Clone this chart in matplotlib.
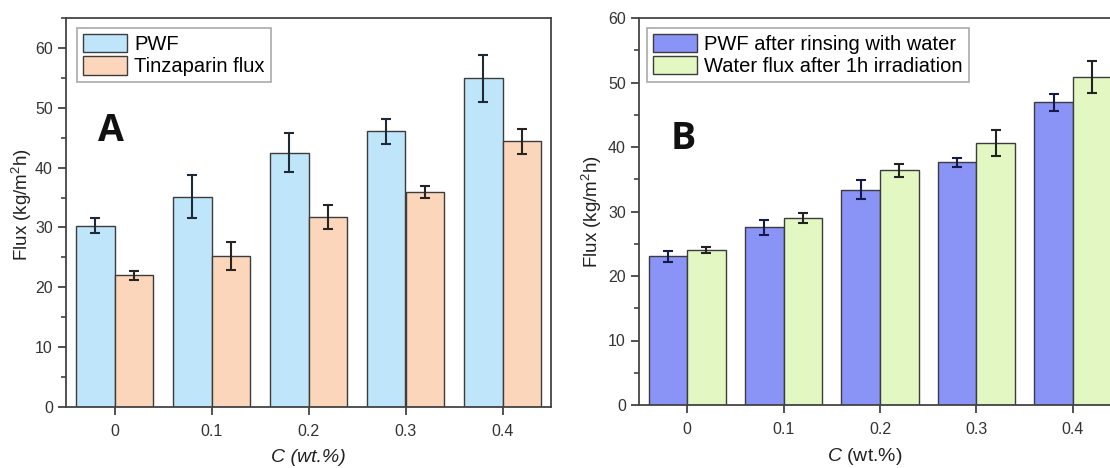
import matplotlib
matplotlib.use("Agg")
import matplotlib.pyplot as plt
import numpy as np
from matplotlib.ticker import MultipleLocator

plt.rcParams['font.family'] = ['Liberation Sans', 'DejaVu Sans']
plt.rcParams['mathtext.fontset'] = 'custom'
plt.rcParams['mathtext.rm'] = 'Liberation Sans'
plt.rcParams['mathtext.it'] = 'Liberation Sans:italic'
plt.rcParams['mathtext.bf'] = 'Liberation Sans:bold'

categories = ["0", "0.1", "0.2", "0.3", "0.4"]

# Panel A
pwf = [30.3, 35.1, 42.5, 46.1, 54.9]
pwf_err = [1.25, 3.6, 3.3, 2.1, 3.9]
tinz = [22.0, 25.2, 31.7, 35.9, 44.4]
tinz_err = [0.8, 2.3, 2.0, 1.05, 2.1]

# Panel B
rinse = [23.05, 27.55, 33.4, 37.6, 46.9]
rinse_err = [0.85, 1.15, 1.5, 0.7, 1.25]
irr = [24.0, 29.0, 36.4, 40.6, 50.85]
irr_err = [0.5, 0.75, 1.0, 2.05, 2.5]

W, H = 1110, 468
fig = plt.figure(figsize=(W / 100, H / 100), dpi=100)

axA = fig.add_axes([66 / W, (H - 407) / H, 485 / W, 389 / H])
axB = fig.add_axes([639 / W, (H - 405) / H, 482 / W, 387 / H])

x = np.arange(len(categories))
bw = 0.4
edge = '#3c3c3c'
tickc = '#333333'


def style(ax, ymax):
    ax.set_xlim(-0.5, 4.5)
    ax.set_ylim(0, ymax)
    ax.set_xticks(x)
    ax.set_xticklabels(categories)
    ax.yaxis.set_major_locator(MultipleLocator(10))
    ax.yaxis.set_minor_locator(MultipleLocator(5))
    ax.tick_params(axis='both', which='major', direction='out', length=6, width=1.2,
                   colors=tickc, labelsize=11.5, labelcolor='#333333')
    ax.tick_params(axis='x', pad=6)
    ax.tick_params(axis='y', which='minor', direction='out', length=3.5, width=1.1, colors=tickc)
    ax.tick_params(axis='x', which='minor', bottom=False)
    for s in ax.spines.values():
        s.set_color('#444444')
        s.set_linewidth(1.3)


def legend(ax, x0, y0):
    leg = ax.legend(loc='upper left', bbox_to_anchor=(x0, y0), fontsize=14.5, frameon=True, fancybox=False,
                    handlelength=2.2, handleheight=1.0, handletextpad=0.35, borderpad=0.3, labelspacing=0.12,
                    borderaxespad=0.0, framealpha=1.0)
    leg.get_frame().set_edgecolor('#aaaaaa')
    leg.get_frame().set_linewidth(1.2)
    return leg


# Panel A
axA.bar(x - bw / 2, pwf, bw, color='#bfe5fa', edgecolor=edge, linewidth=1.0, label='PWF', zorder=2)
axA.bar(x + bw / 2, tinz, bw, color='#fbd6bb', edgecolor=edge, linewidth=1.0, label='Tinzaparin flux', zorder=2)
axA.errorbar(x - bw / 2, pwf, yerr=pwf_err, fmt='none', ecolor='#1e2a36', elinewidth=1.5, capsize=3.8, capthick=1.5, zorder=3)
axA.errorbar(x + bw / 2, tinz, yerr=tinz_err, fmt='none', ecolor='#2a2420', elinewidth=1.5, capsize=3.8, capthick=1.5, zorder=3)
style(axA, 65)
axA.set_ylabel('Flux (kg/m$^2$h)', fontsize=13.5, color='#222222', va='center')
axA.yaxis.set_label_coords(-0.091, 0.52)
axA.set_xlabel('C (wt.%)', fontsize=14, style='italic', color='#222222', va='center')
axA.xaxis.set_label_coords(0.5, -0.131)
legend(axA, 0.0227, 0.974)
axA.text(0.093, 0.71, 'A', transform=axA.transAxes, fontsize=27, fontweight='bold',
         family=['Open Sans', 'DejaVu Sans'], ha='center', va='center', color='#111111')

# Panel B
axB.bar(x - bw / 2, rinse, bw, color='#8a93f6', edgecolor=edge, linewidth=1.0, label='PWF after rinsing with water', zorder=2)
axB.bar(x + bw / 2, irr, bw, color='#e3f7c2', edgecolor=edge, linewidth=1.0, label='Water flux after 1h irradiation', zorder=2)
axB.errorbar(x - bw / 2, rinse, yerr=rinse_err, fmt='none', ecolor='#161a4a', elinewidth=1.5, capsize=3.8, capthick=1.5, zorder=3)
axB.errorbar(x + bw / 2, irr, yerr=irr_err, fmt='none', ecolor='#222222', elinewidth=1.5, capsize=3.8, capthick=1.5, zorder=3)
style(axB, 60)
axB.set_ylabel('Flux (kg/m$^2$h)', fontsize=13.5, color='#222222', va='center')
axB.yaxis.set_label_coords(-0.0975, 0.5)
axB.set_xlabel('$\\it{C}$ (wt.%)', fontsize=14, color='#222222', va='center')
axB.xaxis.set_label_coords(0.469, -0.134)
legend(axB, 0.0166, 0.974)
axB.text(0.091, 0.687, 'B', transform=axB.transAxes, fontsize=27, fontweight='bold',
         family=['Open Sans', 'DejaVu Sans'], ha='center', va='center', color='#111111')

fig.savefig('out.png', dpi=100)
